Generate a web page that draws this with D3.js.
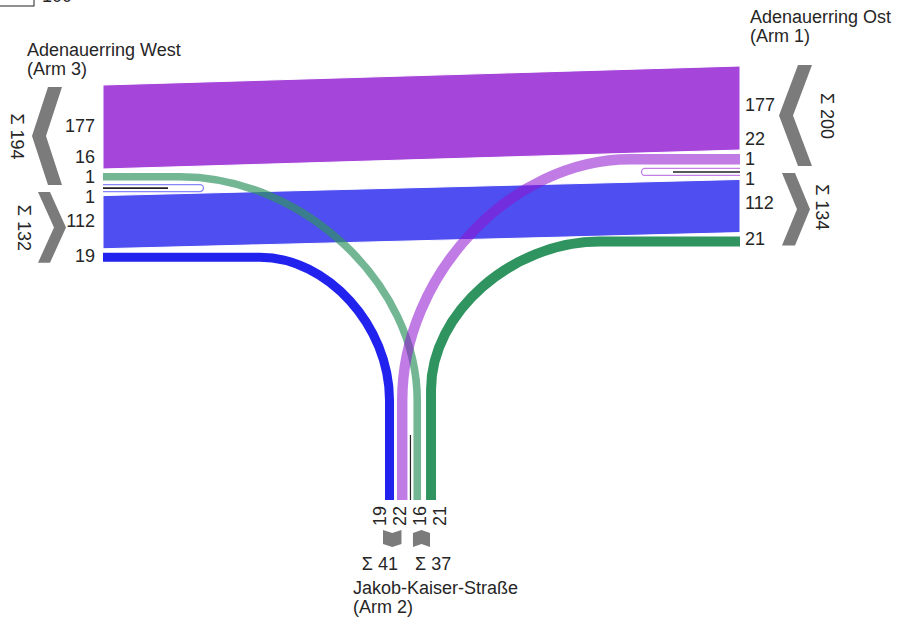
<!DOCTYPE html>
<html>
<head>
	<title>Knotenstrom Adenauerring</title>
	<meta charset="utf-8">
	<script src="https://cdn.jsdelivr.net/npm/d3@7"></script>
	<style>
		body { margin: 0; background: #fff; }
		text { font-family: "Liberation Sans", Arial, sans-serif; font-size: 18px; fill: #262626; }
	</style>
</head>
<body>
<script type="text/javascript">
var width = 897
var height = 626

// Arme des Knotens
var armIds = [1, 2, 3]
var armNames = ["Adenauerring Ost", "Jakob-Kaiser-Straße", "Adenauerring West"]
var armSubs = ["(Arm 1)", "(Arm 2)", "(Arm 3)"]

// Verkehrsströme: von Arm -> nach Arm, Fahrzeuge
var flowFrom  = [1, 1, 1, 3, 3, 3, 2, 2]
var flowTo    = [3, 2, 1, 1, 2, 3, 3, 1]
var flowValue = [177, 22, 1, 112, 19, 1, 16, 21]
var legendValue = 100

var flows = flowValue.map(function(v, i) { return {i: i, from: flowFrom[i], to: flowTo[i], value: v} })
function flow(a, b) { return flows.find(function(f) { return f.from == a && f.to == b }) }

// Breite der Ströme
var w = d3.scaleLinear().domain([0, 177]).range([0, 84])
// Farbe nach Herkunft
var color = d3.scaleOrdinal().domain(armIds).range(["#8f16cf", "#2f9460", "#2222ee"])

var svg = d3.select("body").append("svg")
	.attr("width", width)
	.attr("height", height)

// Anordnung an den Armen (Reihenfolge der Ströme)
var uturnH = 7
var west = {x: 103, start: 85, gaps: [4, 4, 4, 4], order: [flow(1,3), flow(2,3), "u3", flow(3,1), flow(3,2)]}
var east = {x: 740, start: 66, gaps: [4, 4, 4, 4], order: [flow(1,3), flow(1,2), "u1", flow(3,1), flow(2,1)]}
var south = {y: 500, start: 385, gaps: [3, 3, 3, 5], order: [flow(3,2), flow(1,2), "u2", flow(2,3), flow(2,1)]}

function stack(arm, uh) {
	var pos = arm.start, slots = []
	arm.order.forEach(function(o, k) {
		var size = typeof o == "string" ? uh : w(o.value)
		slots.push({item: o, a: pos, b: pos + size, c: pos + size / 2})
		pos += size + (arm.gaps[k] || 0)
	})
	return slots
}
var ws = stack(west, uturnH), es = stack(east, uturnH), ss = stack(south, 0)
function slotOf(slots, f) { return slots.find(function(s) { return s.item === f }) }

// gerade Ströme als Bänder
var straight = [flow(3,1), flow(1,3)]
svg.selectAll("path.band")
	.data(straight)
	.enter()
	.append("path")
		.attr("class", "band")
		.attr("d", function(f) {
			var a = slotOf(ws, f), b = slotOf(es, f)
			return "M" + west.x + "," + a.a + "L" + east.x + "," + b.a + "L" + east.x + "," + b.b + "L" + west.x + "," + a.b + "Z"
		})
		.attr("fill", function(f) { return color(f.from) })
		.attr("fill-opacity", 0.8)
		.attr("stroke", "#fff")
		.attr("stroke-width", 1)

// Abbieger: Rechtsabbieger deckend, Linksabbieger transparent
var turns = [
	{f: flow(3,2), arm: west, slots: ws, bend: 260, ry: 143, op: 1},
	{f: flow(2,1), arm: east, slots: es, bend: 600, ry: 148, op: 1},
	{f: flow(2,3), arm: west, slots: ws, bend: 180, ry: 224, op: 0.68},
	{f: flow(1,2), arm: east, slots: es, bend: 630, ry: 241, op: 0.56}
]

function turnPath(t) {
	var y = slotOf(t.slots, t.f).c
	var x = slotOf(ss, t.f).c
	var p = d3.path()
	var k = 0.52
	var yEnd = y + t.ry
	p.moveTo(t.arm.x, y)
	p.lineTo(t.bend, y)
	p.bezierCurveTo(t.bend + (x - t.bend) * k, y, x, yEnd - t.ry * k, x, yEnd)
	p.lineTo(x, south.y)
	return p.toString()
}

svg.selectAll("path.turn")
	.data(turns)
	.enter()
	.append("path")
		.attr("class", "turn")
		.attr("d", turnPath)
		.attr("fill", "none")
		.attr("stroke", function(t) { return color(t.f.from) })
		.attr("stroke-opacity", function(t) { return t.op })
		.attr("stroke-width", function(t) { return w(t.f.value) })

// Wender
function uturn(slots, key, x0, len, line, arm) {
	var s = slots.find(function(d) { return d.item === key })
	var dir = len > 0 ? 1 : -1
	var x1 = x0 + len, r = (s.b - s.a) / 2
	svg.append("path")
		.attr("d", "M" + x0 + "," + s.a + "H" + x1 + "A" + r + "," + r + " 0 0 " + (dir > 0 ? 1 : 0) + " " + x1 + "," + s.b + "H" + x0)
		.attr("fill", "#fff")
		.attr("stroke", color(arm))
		.attr("stroke-opacity", 0.55)
		.attr("stroke-width", 1.3)
	svg.append("line")
		.attr("x1", x0).attr("x2", x0 + line)
		.attr("y1", s.c).attr("y2", s.c)
		.attr("stroke", "#222")
		.attr("stroke-width", 1.6)
}
uturn(ws, "u3", west.x, 97, 65, 3)
uturn(es, "u1", east.x, -95, -67, 1)
var su = ss.find(function(d) { return d.item === "u2" })
svg.append("line")
	.attr("x1", su.c).attr("x2", su.c)
	.attr("y1", 435).attr("y2", south.y)
	.attr("stroke", "#222")
	.attr("stroke-width", 1.2)

// Beschriftung der Ströme, um den Wender herum auseinandergeschoben
function placeLabels(slots, spacing) {
	var ui = slots.findIndex(function(s) { return typeof s.item == "string" })
	var hasU = slots[ui].item !== "u2"
	var items = []
	slots.forEach(function(s, k) {
		if (typeof s.item == "string") return
		items.push({v: s.item.value, c: s.c, k: k})
	})
	if (hasU) {
		// Wender zählt an beiden Seiten mit 1
		var u = slots[ui]
		items.splice(ui, 0, {v: 1, c: u.c - spacing / 2}, {v: 1, c: u.c + spacing / 2})
		var lo = ui, hi = ui + 1
	} else {
		var m = slots[ui].c
		items[ui - 1].c = Math.min(items[ui - 1].c, m - spacing / 2)
		items[ui].c = Math.max(items[ui].c, m + spacing / 2)
		var lo = ui - 1, hi = ui
	}
	for (var i = lo - 1; i >= 0; i--) items[i].c = Math.min(items[i].c, items[i + 1].c - spacing)
	for (var i = hi + 1; i < items.length; i++) items[i].c = Math.max(items[i].c, items[i - 1].c + spacing)
	return items
}

svg.selectAll("text.wl")
	.data(placeLabels(ws, 20))
	.enter().append("text")
		.attr("x", west.x - 8).attr("y", function(d) { return d.c - 1 })
		.attr("text-anchor", "end").attr("dominant-baseline", "central")
		.text(function(d) { return d.v })

svg.selectAll("text.el")
	.data(placeLabels(es, 20))
	.enter().append("text")
		.attr("x", east.x + 5).attr("y", function(d) { return d.c - 3 })
		.attr("dominant-baseline", "central")
		.text(function(d) { return d.v })

svg.selectAll("text.sl")
	.data(placeLabels(ss, 20))
	.enter().append("text")
		.attr("transform", function(d) { return "translate(" + d.c + "," + (south.y + 6) + ") rotate(-90)" })
		.attr("text-anchor", "end").attr("dominant-baseline", "central")
		.text(function(d) { return d.v })

// Summen je Arm und Richtung
function sumTo(a) { return d3.sum(flows.filter(function(f) { return f.to == a }), function(f) { return f.value }) }
function sumFrom(a) { return d3.sum(flows.filter(function(f) { return f.from == a }), function(f) { return f.value }) }

function chevron(xe, y0, y1, thick, depth) {
	var ym = (y0 + y1) / 2
	return "M" + xe + "," + y0 + "L" + (xe + thick) + "," + y0 + "L" + (xe + thick + depth) + "," + ym +
		"L" + (xe + thick) + "," + y1 + "L" + xe + "," + y1 + "L" + (xe + depth) + "," + ym + "Z"
}

var wu = ws[2].c, eu = es[2].c
var chevs = [
	{d: chevron(48, ws[0].a + 2, wu - 3, 14, -16), tx: 17, ty: (ws[0].a + wu) / 2, s: sumTo(3)},
	{d: chevron(38, wu + 4, ws[4].b + 1, 12, 16), tx: 24, ty: (wu + ws[4].b) / 2 + 3, s: sumFrom(3)},
	{d: chevron(798, es[0].a - 1, eu - 6, 14, -19), tx: 827, ty: (es[0].a + eu) / 2 - 3, s: sumFrom(1)},
	{d: chevron(782, eu + 1, es[4].b - 1, 13, 15), tx: 822, ty: (eu + es[4].b) / 2 - 2, s: sumTo(1)}
]
svg.selectAll("path.chev")
	.data(chevs)
	.enter().append("path")
		.attr("d", function(d) { return d.d })
		.attr("fill", "#7b7b7b")
svg.selectAll("text.sum")
	.data(chevs)
	.enter().append("text")
		.attr("transform", function(d) { return "translate(" + d.tx + "," + d.ty + ") rotate(90)" })
		.attr("text-anchor", "middle").attr("dominant-baseline", "central")
		.text(function(d) { return "Σ " + d.s })

// Süd: kleine Pfeile (raus nach unten, rein nach oben)
var sx0 = ss[0].a - 2, sx1 = ss[1].b - 6, sx2 = ss[3].a - 0.5, sx3 = ss[4].b - 6
var sm0 = (sx0 + sx1) / 2, sm1 = (sx2 + sx3) / 2
svg.append("path")
	.attr("d", "M" + sx0 + ",530L" + sm0 + ",533L" + sx1 + ",530L" + sx1 + ",544L" + sm0 + ",547L" + sx0 + ",544Z")
	.attr("fill", "#7b7b7b")
svg.append("path")
	.attr("d", "M" + sx2 + ",533L" + sm1 + ",530L" + sx3 + ",533L" + sx3 + ",547L" + sm1 + ",544L" + sx2 + ",547Z")
	.attr("fill", "#7b7b7b")
svg.append("text").attr("x", 398).attr("y", 570).attr("text-anchor", "end").text("Σ " + sumTo(2))
svg.append("text").attr("x", 415).attr("y", 570).text("Σ " + sumFrom(2))

// Armbezeichnungen
var titlePos = [[750, 23], [353, 594], [27, 56]]
armIds.forEach(function(a, i) {
	var t = svg.append("text").attr("x", titlePos[i][0]).attr("y", titlePos[i][1])
	t.append("tspan").text(armNames[i])
	t.append("tspan").attr("x", titlePos[i][0]).attr("dy", 19).text(armSubs[i])
})

// Legende (oben abgeschnitten)
svg.append("rect")
	.attr("x", -1).attr("y", -20).attr("width", 35).attr("height", 26)
	.attr("fill", "none").attr("stroke", "#222").attr("stroke-width", 1)
svg.append("text").attr("x", 42).attr("y", 2).text(legendValue)
</script>
</body>
</html>
